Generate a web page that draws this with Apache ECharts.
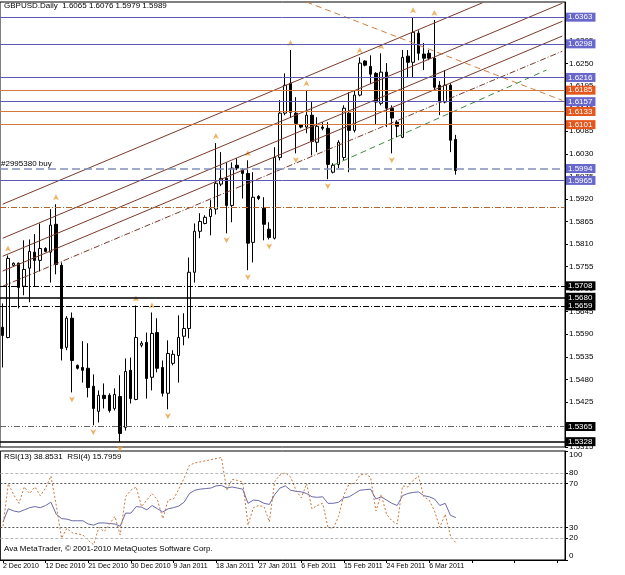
<!DOCTYPE html>
<html>
<head>
<meta charset="utf-8">
<script src="https://cdn.jsdelivr.net/npm/echarts@6/dist/echarts.min.js"></script>
<style>
html, body { margin: 0; padding: 0; background: #fff; }
#chart { width: 625px; height: 575px; }
</style>
</head>
<body>
<div id="chart"></div>
<script>
const FONT = 'Liberation Sans, Arial, sans-serif'

// daily bars (Sun-Fri sessions)
const dates = [
  '2 Dec 2010', '3 Dec 2010', '5 Dec 2010', '6 Dec 2010', '7 Dec 2010', '8 Dec 2010', '9 Dec 2010', '10 Dec 2010',
  '12 Dec 2010', '13 Dec 2010', '14 Dec 2010', '15 Dec 2010', '16 Dec 2010', '17 Dec 2010', '19 Dec 2010', '20 Dec 2010',
  '21 Dec 2010', '22 Dec 2010', '23 Dec 2010', '24 Dec 2010', '26 Dec 2010', '27 Dec 2010', '28 Dec 2010', '29 Dec 2010',
  '30 Dec 2010', '31 Dec 2010', '2 Jan 2011', '3 Jan 2011', '4 Jan 2011', '5 Jan 2011', '6 Jan 2011', '7 Jan 2011',
  '9 Jan 2011', '10 Jan 2011', '11 Jan 2011', '12 Jan 2011', '13 Jan 2011', '14 Jan 2011', '16 Jan 2011', '17 Jan 2011',
  '18 Jan 2011', '19 Jan 2011', '20 Jan 2011', '21 Jan 2011', '23 Jan 2011', '24 Jan 2011', '25 Jan 2011', '26 Jan 2011',
  '27 Jan 2011', '28 Jan 2011', '30 Jan 2011', '31 Jan 2011', '1 Feb 2011', '2 Feb 2011', '3 Feb 2011', '4 Feb 2011',
  '6 Feb 2011', '7 Feb 2011', '8 Feb 2011', '9 Feb 2011', '10 Feb 2011', '11 Feb 2011', '13 Feb 2011', '14 Feb 2011',
  '15 Feb 2011', '16 Feb 2011', '17 Feb 2011', '18 Feb 2011', '20 Feb 2011', '21 Feb 2011', '22 Feb 2011', '23 Feb 2011',
  '24 Feb 2011', '25 Feb 2011', '27 Feb 2011', '28 Feb 2011', '1 Mar 2011', '2 Mar 2011', '3 Mar 2011', '4 Mar 2011',
  '6 Mar 2011', '7 Mar 2011', '8 Mar 2011', '9 Mar 2011', '10 Mar 2011', '11 Mar 2011'
]
const emptySlots = 20

const opens = [
  1.5607, 1.5582, 1.5758, 1.5763, 1.5707, 1.5751, 1.5790, 1.5770, 1.5799, 1.5790,
  1.5858, 1.5758, 1.5558, 1.5629, 1.5514, 1.5509, 1.5507, 1.5463, 1.5402, 1.5441,
  1.5441, 1.5409, 1.5438, 1.5363, 1.5502, 1.5431, 1.5563, 1.5570, 1.5485, 1.5594,
  1.5509, 1.5446, 1.5519, 1.5538, 1.5585, 1.5604, 1.5741, 1.5841, 1.5860, 1.5877,
  1.5895, 1.5956, 1.5970, 1.5904, 1.6002, 1.5990, 1.5982, 1.5814, 1.5926, 1.5897,
  1.5846, 1.5824, 1.6021, 1.6129, 1.6202, 1.6129, 1.6100, 1.6095, 1.6124, 1.6058,
  1.6095, 1.6092, 1.5985, 1.6004, 1.6021, 1.6129, 1.6087, 1.6173, 1.6256, 1.6243,
  1.6226, 1.6153, 1.6229, 1.6141, 1.6107, 1.6070, 1.6268, 1.6253, 1.6324, 1.6273,
  1.6275, 1.6263, 1.6197, 1.6156, 1.6197, 1.6065
]
const highs = [
  1.5665, 1.5782, 1.5765, 1.5765, 1.5819, 1.5821, 1.5834, 1.5860, 1.5802, 1.5895,
  1.5907, 1.5765, 1.5634, 1.5643, 1.5516, 1.5573, 1.5568, 1.5492, 1.5453, 1.5470,
  1.5446, 1.5458, 1.5490, 1.5531, 1.5533, 1.5660, 1.5573, 1.5594, 1.5643, 1.5629,
  1.5526, 1.5575, 1.5551, 1.5636, 1.5641, 1.5777, 1.5860, 1.5885, 1.5880, 1.5917,
  1.6056, 1.6034, 1.6009, 1.6009, 1.6019, 1.5995, 1.6014, 1.5985, 1.5929, 1.5924,
  1.5863, 1.6046, 1.6161, 1.6226, 1.6283, 1.6168, 1.6102, 1.6185, 1.6156, 1.6119,
  1.6107, 1.6107, 1.6007, 1.6063, 1.6148, 1.6180, 1.6185, 1.6265, 1.6258, 1.6270,
  1.6229, 1.6275, 1.6251, 1.6148, 1.6112, 1.6283, 1.6283, 1.6363, 1.6331, 1.6300,
  1.6283, 1.6356, 1.6207, 1.6234, 1.6202, 1.6076
]
const lows = [
  1.5509, 1.5580, 1.5755, 1.5653, 1.5685, 1.5668, 1.5707, 1.5743, 1.5790, 1.5716,
  1.5736, 1.5526, 1.5551, 1.5448, 1.5504, 1.5472, 1.5436, 1.5368, 1.5375, 1.5409,
  1.5399, 1.5404, 1.5328, 1.5355, 1.5421, 1.5429, 1.5558, 1.5433, 1.5453, 1.5497,
  1.5438, 1.5407, 1.5514, 1.5472, 1.5563, 1.5580, 1.5716, 1.5824, 1.5858, 1.5831,
  1.5882, 1.5951, 1.5836, 1.5863, 1.5990, 1.5921, 1.5746, 1.5765, 1.5917, 1.5819,
  1.5821, 1.5821, 1.6014, 1.6124, 1.6117, 1.6031, 1.6092, 1.6080, 1.6026, 1.6034,
  1.6087, 1.5968, 1.5982, 1.5995, 1.6014, 1.5985, 1.6082, 1.6170, 1.6243, 1.6200,
  1.6100, 1.6148, 1.6095, 1.6031, 1.6070, 1.6068, 1.6217, 1.6217, 1.6258, 1.6234,
  1.6258, 1.6185, 1.6124, 1.6153, 1.6034, 1.5979
]
const closes = [
  1.5587, 1.5775, 1.5763, 1.5704, 1.5748, 1.5792, 1.5770, 1.5799, 1.5792, 1.5856,
  1.5760, 1.5555, 1.5629, 1.5526, 1.5507, 1.5502, 1.5460, 1.5409, 1.5441, 1.5433,
  1.5404, 1.5443, 1.5348, 1.5499, 1.5433, 1.5582, 1.5568, 1.5482, 1.5592, 1.5507,
  1.5446, 1.5543, 1.5541, 1.5582, 1.5604, 1.5741, 1.5841, 1.5865, 1.5875, 1.5895,
  1.5958, 1.5970, 1.5904, 1.5995, 1.5995, 1.5982, 1.5812, 1.5924, 1.5921, 1.5858,
  1.5826, 1.6021, 1.6129, 1.6197, 1.6131, 1.6104, 1.6095, 1.6124, 1.6060, 1.6097,
  1.6092, 1.6004, 1.6002, 1.6058, 1.6141, 1.6087, 1.6173, 1.6251, 1.6246, 1.6224,
  1.6156, 1.6229, 1.6141, 1.6117, 1.6097, 1.6265, 1.6253, 1.6326, 1.6275, 1.6263,
  1.6263, 1.6192, 1.6156, 1.6197, 1.6063, 1.5989
]

const rsi13 = [
  35, 47, 45, 44, 46, 48, 49, 48, 50, 53,
  42, 38, 37.5, 36, 36, 36, 33, 32, 34, 34,
  33.5, 33, 31, 43, 43, 49, 48.5, 46, 50, 47,
  44, 47, 48, 49.5, 53, 61, 64, 65, 65.5, 66,
  68, 68.5, 66, 67, 66, 65, 52, 55, 54.5, 52,
  51, 60, 66, 68, 64, 63, 62.5, 61, 58, 57.5,
  58, 52, 52, 53, 57, 58, 61, 64, 64.5, 65,
  56, 58, 55, 52, 50, 59, 61, 62, 62.5, 59,
  58, 56, 50, 52, 41, 38.8531
]
const rsi4 = [
  31, 70, 60, 52, 67, 61, 67, 59, 66, 77,
  50, 20, 29, 25, 24, 23, 18, 14, 30, 26,
  33, 40, 23, 58, 64, 67, 49, 55, 61, 55,
  38, 55, 56, 65, 75, 87, 89, 90, 91, 92,
  93, 94, 64, 74, 73, 71.5, 32, 48, 50, 49,
  35, 72, 78, 80, 76, 64, 57, 70, 47, 50,
  52, 30, 29, 40, 60, 70, 70, 78, 79, 76,
  45, 60, 42, 36, 33, 68, 67, 73, 77, 58,
  55, 45, 30, 42, 22, 15.7959
]

// price scale ticks
const priceMin = 1.5315
const priceMax = 1.6400
const priceStep = 0.0055
const rsiTicks = [0, 20, 30, 70, 80, 100]

// drawn objects
const blueLevels = [1.6363, 1.6298, 1.6216, 1.6157, 1.5965]
const orangeLevels = [1.6185, 1.6133, 1.6101]
const blackSolidLevels = [1.5680, 1.5328]
const blackDashLevels = [1.5708, 1.5659]
const grayDashLevels = [1.5365]
const brownDashLevel = 1.5899
const orderLevel = 1.5994
const orderText = '#2995380 buy'

// channel lines: [bar, price] -> [bar, price]
const channelLines = [
  [[0, 1.5907], [90, 1.6398], 'solid'],
  [[0, 1.5824], [105, 1.6397], 'solid'],
  [[0, 1.5780], [105, 1.6353], 'solid'],
  [[0, 1.5744], [105, 1.6317], 'solid'],
  [[0, 1.5707], [105, 1.6280], 'dashdot']
]
const greenLine = [[62, 1.6002], [102, 1.6234]]
const fallingLine = [[57, 1.6400], [105, 1.6160]]

const fractalUp = [1, 10, 25, 28, 40, 46, 54, 57, 67, 71, 77, 81]
const fractalDown = [13, 17, 22, 31, 42, 46, 50, 55, 61, 73]

const categories = dates.concat(new Array(emptySlots).fill(''))
const last = dates.length - 1

const BLUE = '#5a5ab4'
const BLUE_BG = '#6868cc'
const ORANGE = '#d4783c'
const ORANGE_BG = '#e4561c'
const DASHDOT = [6, 2, 1, 2]
const DASHDOTDOT = [6, 2, 1, 2, 1, 2]

function level(v, color, bg, type, width) {
  return {
    yAxis: v,
    lineStyle: { color: color, type: type || 'solid', width: width || 1 },
    label: {
      show: !!bg, position: 'end', distance: 1, formatter: v.toFixed(4),
      color: '#fff', backgroundColor: bg, fontSize: 8, fontFamily: FONT,
      padding: [1, 3, 0, 2]
    }
  }
}

function segment(a, b, color, type) {
  return [
    { coord: a, lineStyle: { color: color, type: type, width: 1 }, label: { show: false } },
    { coord: b }
  ]
}

const levelLines = []
channelLines.forEach(l => levelLines.push(segment(l[0], l[1], '#7a3a2a', l[2] === 'dashdot' ? DASHDOT : 'solid')))
levelLines.push(segment(greenLine[0], greenLine[1], '#3c8c3c', [6, 4]))
levelLines.push(segment(fallingLine[0], fallingLine[1], '#d08040', [6, 4]))
levelLines.push(level(brownDashLevel, '#b4642c', null, DASHDOT))
grayDashLevels.forEach(v => levelLines.push(level(v, '#666', '#000', DASHDOTDOT)))
blackDashLevels.forEach(v => levelLines.push(level(v, '#000', '#000', DASHDOT)))
blackSolidLevels.forEach(v => levelLines.push(level(v, '#000', '#000', 'solid', 1.5)))
orangeLevels.forEach(v => levelLines.push(level(v, ORANGE, ORANGE_BG)))
blueLevels.forEach(v => levelLines.push(level(v, BLUE, BLUE_BG)))
// order line: dashed line with ticket text on the left, price tag on the right
levelLines.push({
  yAxis: orderLevel,
  lineStyle: { color: '#8090b8', type: [8, 4], width: 1.5 },
  label: { show: true, position: 'insideStartTop', distance: 1, formatter: orderText, color: '#000', fontSize: 8, fontFamily: FONT }
})
levelLines.push({
  yAxis: orderLevel,
  lineStyle: { color: 'rgba(0,0,0,0)', width: 1 },
  label: {
    show: true, position: 'end', distance: 1, formatter: orderLevel.toFixed(4),
    color: '#fff', backgroundColor: BLUE_BG, fontSize: 8, fontFamily: FONT, padding: [1, 3, 0, 2]
  }
})

const candleData = opens.map((o, i) => [o, closes[i], lows[i], highs[i]])

const chart = echarts.init(document.getElementById('chart'), null, { renderer: 'canvas' })
chart.setOption({
  animation: false,
  backgroundColor: '#fff',
  textStyle: { fontFamily: FONT },
  graphic: [
    { type: 'text', left: 4, top: 2, style: { text: 'GBPUSD.Daily  ' + [opens[last], highs[last], lows[last], closes[last]].map(v => v.toFixed(4)).join(' '), font: '8px ' + FONT, fill: '#000' } },
    { type: 'text', left: 4, top: 453, style: { text: 'RSI(13) ' + rsi13[last].toFixed(4) + '  RSI(4) ' + rsi4[last].toFixed(4), font: '8px ' + FONT, fill: '#000' } },
    { type: 'text', left: 4, top: 545, style: { text: 'Ava MetaTrader, © 2001-2010 MetaQuotes Software Corp.', font: '8px ' + FONT, fill: '#000' } }
  ],
  grid: [
    { left: 0, top: 2, width: 565, height: 445, show: true, borderColor: '#000', borderWidth: 1 },
    { left: 0, top: 451, width: 565, height: 109, show: true, borderColor: '#000', borderWidth: 1 }
  ],
  xAxis: [
    {
      type: 'category', gridIndex: 0, data: categories, boundaryGap: true,
      axisLine: { show: false }, axisTick: { show: false }, axisLabel: { show: false }, splitLine: { show: false }
    },
    {
      type: 'category', gridIndex: 1, data: categories, boundaryGap: true,
      axisLine: { lineStyle: { color: '#000' } },
      axisTick: { show: true, interval: 7, length: 3, alignWithLabel: true, lineStyle: { color: '#000' } },
      axisLabel: { interval: 7, align: 'left', margin: 3, fontSize: 7, color: '#000', fontFamily: FONT },
      splitLine: { show: false }
    }
  ],
  yAxis: [
    {
      type: 'value', gridIndex: 0, position: 'right', min: priceMin, max: priceMax, interval: priceStep,
      axisLine: { show: true, lineStyle: { color: '#000' } },
      axisTick: { show: true, length: 3, lineStyle: { color: '#000' } },
      axisLabel: { margin: 4, fontSize: 8, color: '#000', fontFamily: FONT, showMaxLabel: false, formatter: v => v.toFixed(4) },
      splitLine: { show: false }
    },
    {
      type: 'value', gridIndex: 1, position: 'right', min: 0, max: 100,
      axisLine: { show: true, lineStyle: { color: '#000' } },
      axisTick: { show: true, length: 3, customValues: rsiTicks, lineStyle: { color: '#000' } },
      axisLabel: { margin: 4, fontSize: 8, color: '#000', fontFamily: FONT, customValues: rsiTicks, verticalAlignMaxLabel: 'top', verticalAlignMinLabel: 'bottom' },
      splitLine: { show: false }
    }
  ],
  series: [
    {
      type: 'candlestick', xAxisIndex: 0, yAxisIndex: 0, data: candleData, barWidth: 3,
      itemStyle: { color: '#fff', color0: '#000', borderColor: '#000', borderColor0: '#000', borderWidth: 1 },
      markLine: { silent: true, symbol: ['none', 'none'], precision: 4, animation: false, data: levelLines }
    },
    {
      type: 'scatter', xAxisIndex: 0, yAxisIndex: 0, silent: true,
      data: fractalUp.map(i => [i, highs[i]]),
      symbol: 'path://M5,0L10,8L5,6L0,8Z', symbolSize: [6, 6], symbolOffset: [0, -7],
      itemStyle: { color: '#eba040' }
    },
    {
      type: 'scatter', xAxisIndex: 0, yAxisIndex: 0, silent: true,
      data: fractalDown.map(i => [i, lows[i]]),
      symbol: 'path://M0,0L5,2L10,0L5,8Z', symbolSize: [6, 6], symbolOffset: [0, 7],
      itemStyle: { color: '#eba040' }
    },
    {
      type: 'line', xAxisIndex: 1, yAxisIndex: 1, data: rsi13, symbol: 'none',
      lineStyle: { color: '#6a6aa8', width: 1 },
      markLine: {
        silent: true, symbol: ['none', 'none'], label: { show: false },
        data: [
          { yAxis: 80, lineStyle: { color: '#b8b8b8', type: [3, 2], width: 1 } },
          { yAxis: 70, lineStyle: { color: '#555', type: [2, 2], width: 1 } },
          { yAxis: 30, lineStyle: { color: '#555', type: [2, 2], width: 1 } },
          { yAxis: 20, lineStyle: { color: '#b8b8b8', type: [3, 2], width: 1 } }
        ]
      }
    },
    {
      type: 'line', xAxisIndex: 1, yAxisIndex: 1, data: rsi4, symbol: 'none',
      lineStyle: { color: '#c8783c', width: 1, type: [2, 2] }
    }
  ]
})
</script>
</body>
</html>
